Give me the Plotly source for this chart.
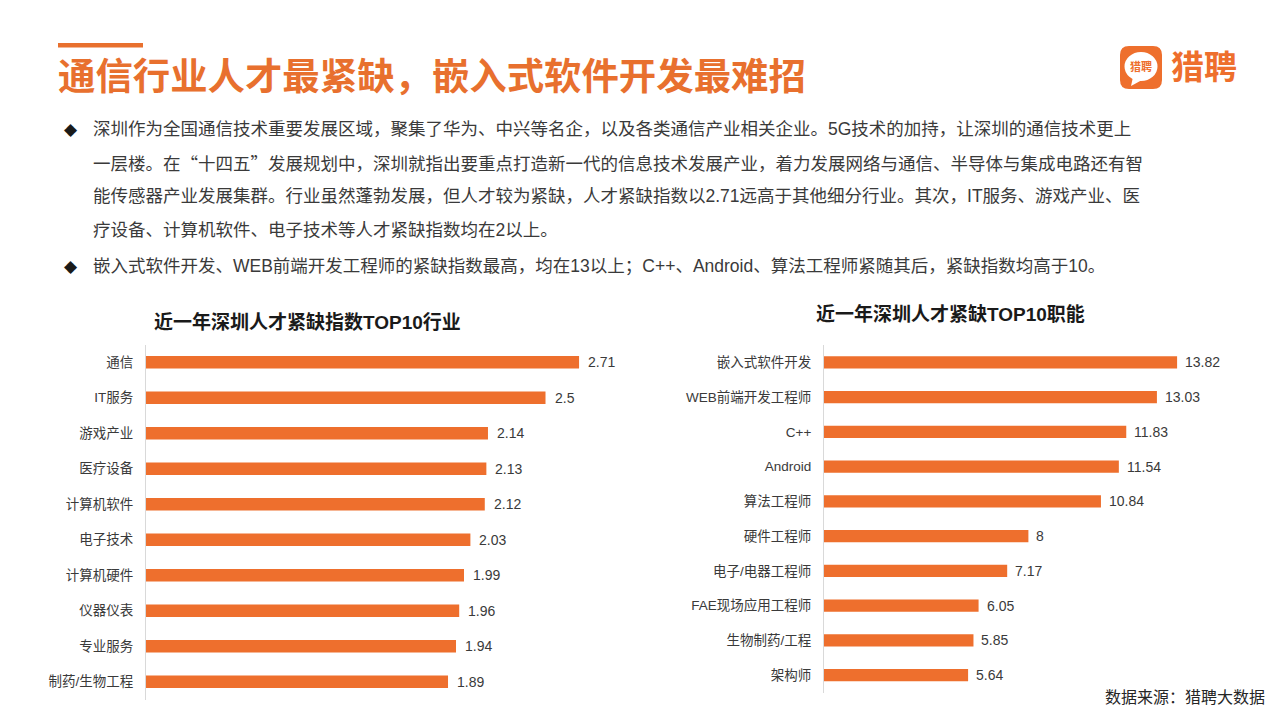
import plotly.graph_objects as go

W, H = 1280, 720
ORANGE = '#EE6F2D'
TITLE_ORANGE = '#E8702E'
TEXT = '#3A3A3A'
FONT = "Arial, 'Liberation Sans', 'Noto Sans CJK SC', sans-serif"

# ---------------- data ----------------
ind_labels = ['通信', 'IT服务', '游戏产业', '医疗设备', '计算机软件', '电子技术',
              '计算机硬件', '仪器仪表', '专业服务', '制药/生物工程']
ind_values = [2.71, 2.5, 2.14, 2.13, 2.12, 2.03, 1.99, 1.96, 1.94, 1.89]

job_labels = ['嵌入式软件开发', 'WEB前端开发工程师', 'C++', 'Android', '算法工程师',
              '硬件工程师', '电子/电器工程师', 'FAE现场应用工程师', '生物制药/工程', '架构师']
job_values = [13.82, 13.03, 11.83, 11.54, 10.84, 8, 7.17, 6.05, 5.85, 5.64]

main_title = '通信行业人才最紧缺，嵌入式软件开发最难招'
left_title = '近一年深圳人才紧缺指数TOP10行业'
right_title = '近一年深圳人才紧缺TOP10职能'
bullet_lines = [
    '深圳作为全国通信技术重要发展区域，聚集了华为、中兴等名企，以及各类通信产业相关企业。5G技术的加持，让深圳的通信技术更上',
    '一层楼。在“十四五”发展规划中，深圳就指出要重点打造新一代的信息技术发展产业，着力发展网络与通信、半导体与集成电路还有智',
    '能传感器产业发展集群。行业虽然蓬勃发展，但人才较为紧缺，人才紧缺指数以2.71远高于其他细分行业。其次，IT服务、游戏产业、医',
    '疗设备、计算机软件、电子技术等人才紧缺指数均在2以上。',
    '嵌入式软件开发、WEB前端开发工程师的紧缺指数最高，均在13以上；C++、Android、算法工程师紧随其后，紧缺指数均高于10。',
]
bullet_first = [True, False, False, False, True]
source_text = '数据来源：猎聘大数据'
logo_text = '猎聘'


def px(x):
    return x / W


def py(y):
    return 1 - y / H


def cjk_quotes(s):
    # render curly quotes with the CJK font (full width), as in the reference
    span = "<span style=\"font-family:'Noto Sans CJK SC'\">{}</span>"
    return s.replace('“', span.format('“')).replace('”', span.format('”'))


fig = go.Figure()

fig.add_trace(go.Bar(y=ind_labels, x=ind_values, orientation='h', width=0.35,
                     marker=dict(color=ORANGE, line=dict(width=0)),
                     xaxis='x', yaxis='y', hoverinfo='x+y'))
fig.add_trace(go.Bar(y=job_labels, x=job_values, orientation='h', width=0.35,
                     marker=dict(color=ORANGE, line=dict(width=0)),
                     xaxis='x2', yaxis='y2', hoverinfo='x+y'))

annotations = []
for lab, v in zip(ind_labels, ind_values):
    annotations.append(dict(x=v, y=lab, xref='x', yref='y', text=str(v), showarrow=False,
                            xanchor='left', yanchor='middle', xshift=7,
                            font=dict(size=14, color=TEXT, family=FONT)))
for lab, v in zip(job_labels, job_values):
    annotations.append(dict(x=v, y=lab, xref='x2', yref='y2', text=str(v), showarrow=False,
                            xanchor='left', yanchor='middle', xshift=6,
                            font=dict(size=14, color=TEXT, family=FONT)))

# main title
annotations.append(dict(x=px(56), y=py(77), xref='paper', yref='paper', text='<b>' + main_title + '</b>',
                        showarrow=False, xanchor='left', yanchor='middle',
                        font=dict(size=37.4, color=TITLE_ORANGE, family=FONT)))
# bullets
line_y = [129, 163, 196, 230, 266]
for yy, txt, first in zip(line_y, bullet_lines, bullet_first):
    annotations.append(dict(x=px(91), y=py(yy), xref='paper', yref='paper', text=cjk_quotes(txt),
                            showarrow=False, xanchor='left', yanchor='middle',
                            font=dict(size=17.5, color=TEXT, family=FONT)))
    if first:
        annotations.append(dict(x=px(71), y=py(yy), xref='paper', yref='paper', text='◆',
                                showarrow=False, xanchor='center', yanchor='middle',
                                font=dict(size=17, color='#1A1A1A', family="'DejaVu Sans', sans-serif")))
# chart titles
annotations.append(dict(x=px(307), y=py(322), xref='paper', yref='paper', text='<b>' + left_title + '</b>',
                        showarrow=False, xanchor='center', yanchor='middle',
                        font=dict(size=19, color='#1A1A1A', family=FONT)))
annotations.append(dict(x=px(950), y=py(314), xref='paper', yref='paper', text='<b>' + right_title + '</b>',
                        showarrow=False, xanchor='center', yanchor='middle',
                        font=dict(size=19, color='#1A1A1A', family=FONT)))
# source
annotations.append(dict(x=px(1267), y=py(697), xref='paper', yref='paper', text=source_text,
                        showarrow=False, xanchor='right', yanchor='middle',
                        font=dict(size=16, color='#262626', family=FONT)))
# logo texts
annotations.append(dict(x=px(1141), y=py(66), xref='paper', yref='paper', text='<b>' + logo_text + '</b>',
                        showarrow=False, xanchor='center', yanchor='middle',
                        font=dict(size=11, color=ORANGE, family=FONT)))
annotations.append(dict(x=px(1169), y=py(67), xref='paper', yref='paper', text='<b>' + logo_text + '</b>',
                        showarrow=False, xanchor='left', yanchor='middle',
                        font=dict(size=33, color=ORANGE, family=FONT)))


def rounded_rect_path(x0, y0, x1, y1, r):
    pts = [
        f'M {px(x0 + r)} {py(y0)}', f'L {px(x1 - r)} {py(y0)}',
        f'Q {px(x1)} {py(y0)} {px(x1)} {py(y0 + r)}', f'L {px(x1)} {py(y1 - r)}',
        f'Q {px(x1)} {py(y1)} {px(x1 - r)} {py(y1)}', f'L {px(x0 + r)} {py(y1)}',
        f'Q {px(x0)} {py(y1)} {px(x0)} {py(y1 - r)}', f'L {px(x0)} {py(y0 + r)}',
        f'Q {px(x0)} {py(y0)} {px(x0 + r)} {py(y0)}', 'Z']
    return ' '.join(pts)


shapes = [
    # top accent line
    dict(type='rect', xref='paper', yref='paper', x0=px(58), x1=px(143), y0=py(47.5), y1=py(43),
         fillcolor=TITLE_ORANGE, line=dict(width=0)),
    # logo icon
    dict(type='path', xref='paper', yref='paper', path=rounded_rect_path(1120, 46, 1162, 89, 9),
         fillcolor=ORANGE, line=dict(width=0)),
    dict(type='circle', xref='paper', yref='paper', x0=px(1124.5), x1=px(1157.5), y0=py(81), y1=py(52),
         fillcolor='white', line=dict(width=0)),
    dict(type='path', xref='paper', yref='paper',
         path=f'M {px(1133)} {py(77)} L {px(1142)} {py(80)} L {px(1131)} {py(86)} Z',
         fillcolor='white', line=dict(width=0)),
]

fig.update_layout(
    width=W, height=H,
    margin=dict(l=0, r=0, t=0, b=0),
    paper_bgcolor='white', plot_bgcolor='white',
    showlegend=False,
    font=dict(family=FONT, color=TEXT),
    annotations=annotations,
    shapes=shapes,
    xaxis=dict(domain=[px(146), px(640)], range=[0, 494 / 159.8], visible=False,
               showgrid=False, zeroline=False),
    yaxis=dict(domain=[py(699.5), py(344.5)], type='category', categoryorder='array',
               categoryarray=ind_labels, range=[9.5, -0.5], showline=True, linecolor='#D9D9D9',
               linewidth=1, ticks='', ticklabelstandoff=9, showgrid=False, zeroline=False,
               tickfont=dict(size=13.5, color=TEXT, family=FONT), anchor='x'),
    xaxis2=dict(domain=[px(824), px(1240)], range=[0, 416 / 25.55], visible=False,
                showgrid=False, zeroline=False, anchor='y2'),
    yaxis2=dict(domain=[py(692.5), py(345)], type='category', categoryorder='array',
                categoryarray=job_labels, range=[9.5, -0.5], showline=True, linecolor='#D9D9D9',
                linewidth=1, ticks='', ticklabelstandoff=9, showgrid=False, zeroline=False,
                tickfont=dict(size=13.5, color=TEXT, family=FONT), anchor='x2'),
)

fig.write_html('out.html', config={'displayModeBar': False},
               post_script="document.body.style.margin='0px';document.body.style.overflow='hidden';")
